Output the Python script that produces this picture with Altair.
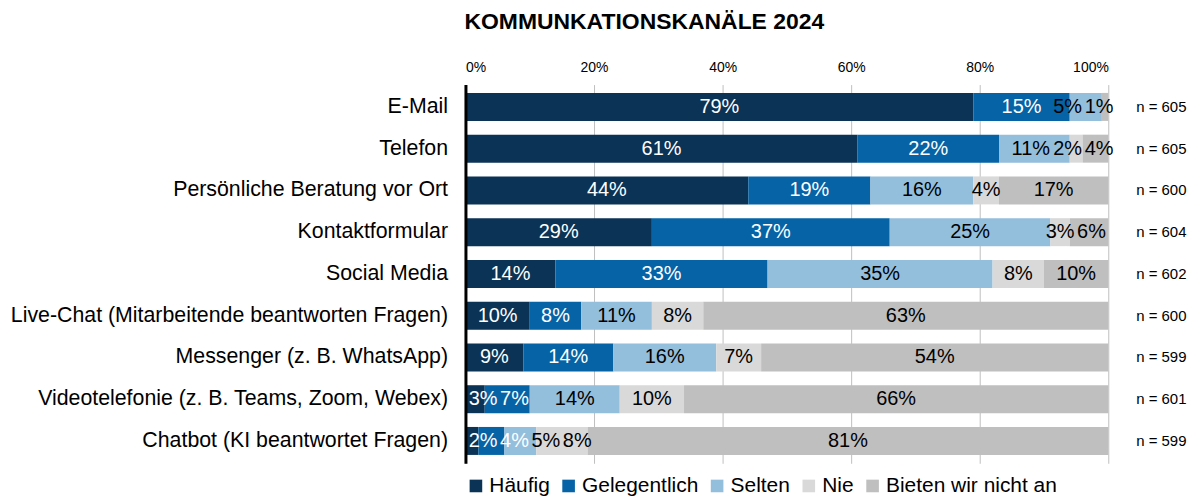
import altair as alt
import pandas as pd

channels = [
    "E-Mail",
    "Telefon",
    "Persönliche Beratung vor Ort",
    "Kontaktformular",
    "Social Media",
    "Live-Chat (Mitarbeitende beantworten Fragen)",
    "Messenger (z. B. WhatsApp)",
    "Videotelefonie (z. B. Teams, Zoom, Webex)",
    "Chatbot (KI beantwortet Fragen)",
]
series = ["Häufig", "Gelegentlich", "Selten", "Nie", "Bieten wir nicht an"]
haeufig = [79, 61, 44, 29, 14, 10, 9, 3, 2]
gelegentlich = [15, 22, 19, 37, 33, 8, 14, 7, 4]
selten = [5, 11, 16, 25, 35, 11, 16, 14, 5]
nie = [0, 2, 4, 3, 8, 8, 7, 10, 8]
bieten = [1, 4, 17, 6, 10, 63, 54, 66, 81]
n_values = [605, 605, 600, 604, 602, 600, 599, 601, 599]
x_ticks = [0, 20, 40, 60, 80, 100]
colors = ["#0B3355", "#0563A6", "#93BEDC", "#D9D9D9", "#BFBFBF"]

FONT = "Liberation Sans"
W, H = 645, 380
LABEL_PX = 20
GAP = 0.4        # minimal gap between neighbouring bar labels (x units)
LEFT_BOUND = 0.5
RIGHT_BOUND = 100.8


def label_width(s):
    # approximate advance width of a bar label, in percent units of the x scale
    em = sum(0.889 if c == "%" else 0.556 for c in s)
    return em * LABEL_PX / (W / 100.0)


rows = []
for i, ch in enumerate(channels):
    start = 0
    row = []
    for s, vals in zip(series, [haeufig, gelegentlich, selten, nie, bieten]):
        v = vals[i]
        lab = f"{v}%"
        row.append(dict(channel=ch, series=s, value=v, start=start,
                        end=start + v, mid=start + v / 2, label=lab,
                        lw=label_width(lab)))
        start += v
    # keep the labels of tiny segments readable: push them apart inside the bar
    vis = [r for r in row if r["value"] > 0]
    prev_right = LEFT_BOUND - GAP
    for r in vis:
        r["lx"] = max(r["mid"], prev_right + GAP + r["lw"] / 2)
        prev_right = r["lx"] + r["lw"] / 2
    next_left = RIGHT_BOUND + GAP
    for r in reversed(vis):
        r["lx"] = min(r["lx"], next_left - GAP - r["lw"] / 2)
        next_left = r["lx"] - r["lw"] / 2
    for r in row:
        r.setdefault("lx", r["mid"])
        del r["lw"]
    rows.extend(row)
df = pd.DataFrame(rows)
ndf = pd.DataFrame({"channel": channels, "n": [f"n = {n}" for n in n_values]})

y_enc = alt.Y(
    "channel:N", sort=channels, title=None,
    scale=alt.Scale(paddingInner=0.33, paddingOuter=0.2),
    axis=alt.Axis(labelFontSize=21.4, labelFont=FONT, labelColor="black",
                  labelPadding=18, ticks=False, domainColor="black",
                  domainWidth=3, labelLimit=700, zindex=1),
)

bars = alt.Chart(df).mark_bar().encode(
    x=alt.X("start:Q", scale=alt.Scale(domain=[0, 100]),
            axis=alt.Axis(orient="top", values=x_ticks,
                          labelExpr="datum.value + '%'", title=None,
                          ticks=False, domain=False, gridColor="#BFBFBF",
                          labelFontSize=14, labelFont=FONT,
                          labelColor="black", labelPadding=10)),
    x2="end:Q",
    y=y_enc,
    color=alt.Color("series:N", scale=alt.Scale(domain=series, range=colors),
                    sort=series,
                    legend=alt.Legend(title=None, orient="bottom",
                                      direction="horizontal",
                                      symbolType="square", symbolSize=160,
                                      symbolStrokeWidth=0, labelFontSize=21,
                                      labelFont=FONT, labelColor="black",
                                      labelLimit=0, columnPadding=8,
                                      labelOffset=3, offset=12, padding=0)),
    order=alt.Order("start:Q"),
)

text = alt.Chart(df).transform_filter("datum.value > 0").mark_text(
    fontSize=LABEL_PX, font=FONT
).encode(
    x=alt.X("lx:Q"),
    y=alt.Y("channel:N", sort=channels),
    text="label:N",
    color=alt.condition(
        (alt.datum.series == "Häufig") | (alt.datum.series == "Gelegentlich"),
        alt.value("white"), alt.value("black")),
)

ntext = alt.Chart(ndf).mark_text(align="left", fontSize=15, font=FONT,
                                 color="black").encode(
    x=alt.value(W + 28),
    y=alt.Y("channel:N", sort=channels),
    text="n:N",
)

chart = alt.layer(bars, text, ntext).properties(
    width=W, height=H,
    title=alt.TitleParams("KOMMUNKATIONSKANÄLE 2024", fontSize=23,
                          fontWeight="bold", font=FONT, color="black",
                          anchor="middle", offset=27, dx=-143),
    padding={"left": 2, "top": 2, "right": 5, "bottom": 0},
).configure_view(stroke=None)

chart.save("out.html", embed_options={"renderer": "svg", "actions": False})
